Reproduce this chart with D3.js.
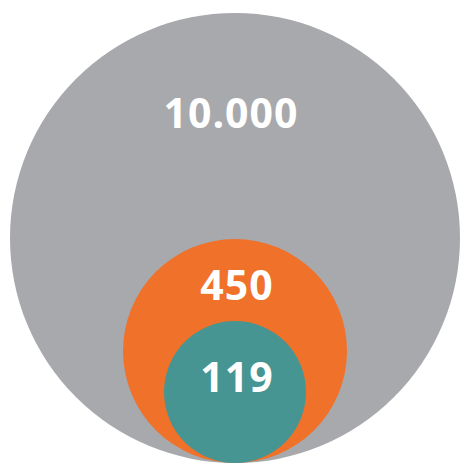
<!DOCTYPE html>
<html>
<head>
<meta charset="utf-8">
<script src="https://cdn.jsdelivr.net/npm/d3@7"></script>
<style>
  html, body { margin: 0; padding: 0; background: #ffffff; }
  svg { display: block; }
</style>
</head>
<body>
<svg id="chart" width="460" height="463"></svg>
<script>
// Data
const categories = ["total", "middle", "inner"];
const values = [10000, 450, 119];
const labels = ["10.000", "450", "119"];

// Rendering
const width = 460, height = 463;
const colors = ["#a8a9ac", "#f07129", "#479592"];
const svg = d3.select("#chart");

// radius scale (visual, non-proportional nesting as in reference)
const rScale = d3.scaleLinear().domain([119, 450, 10000]).range([71, 112, 225]);
const cx = 235;
const baseline = 463;
// label baseline position relative to circle center, as fraction of radius
const labelOffset = [0.49, 0.455, 0.005];

const data = categories.map((c, i) => ({ c, v: values[i], label: labels[i], color: colors[i], off: labelOffset[i] }));

const g = svg.append("g");
g.selectAll("circle")
  .data(data)
  .join("circle")
  .attr("cx", cx)
  .attr("cy", d => baseline - rScale(d.v))
  .attr("r", d => rScale(d.v))
  .attr("fill", d => d.color);

g.selectAll("text")
  .data(data)
  .join("text")
  .attr("x", (d, i) => cx + (i === 0 ? -4 : 2))
  .attr("y", d => baseline - rScale(d.v) - d.off * rScale(d.v))
  .attr("text-anchor", "middle")
  .attr("fill", "#ffffff")
  .attr("font-family", "'Open Sans', sans-serif")
  .attr("font-weight", 700)
  .attr("font-size", 41)
  .attr("letter-spacing", 1)
  .text(d => d.label);
</script>
</body>
</html>
